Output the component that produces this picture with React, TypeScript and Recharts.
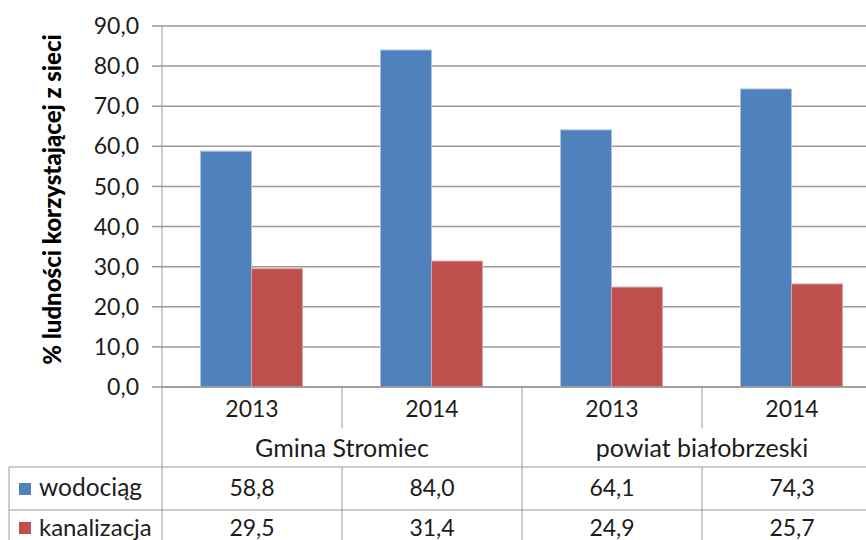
import { BarChart, Bar, XAxis, YAxis, CartesianGrid } from "recharts";

// categories and values
const years = ["2013", "2014", "2013", "2014"];
const groupOfCategory = [0, 0, 1, 1];
const groups = ["Gmina Stromiec", "powiat białobrzeski"];
const wodociag = [58.8, 84.0, 64.1, 74.3];
const kanalizacja = [29.5, 31.4, 24.9, 25.7];
const yTicks = [0, 10, 20, 30, 40, 50, 60, 70, 80, 90];

const seriesNames = ["wodociąg", "kanalizacja"];
const BLUE = "#4F81BD";
const RED = "#C0504D";
const GRID = "#9a9a9a";
const TEXT = "#1c1c1c";
const FONT = "Lato, 'Open Sans', sans-serif";

const CHART_W = 882;
const CHART_H = 540;
const LEFT = 162;
const BAND = (CHART_W - LEFT) / years.length;

const data = years.map((y, i) => ({
  name: y + "_" + i,
  year: y,
  wodociag: wodociag[i],
  kanalizacja: kanalizacja[i],
}));

const fmt = (v: number) => v.toFixed(1).replace(".", ",");

const TableTick = (props: any) => {
  const { x, y, payload } = props;
  const i: number = payload.index;
  const half = BAND / 2;
  const g = groupOfCategory[i];
  const isGroupEnd = i === years.length - 1 || groupOfCategory[i + 1] !== g;
  const isGroupStart = i === 0 || groupOfCategory[i - 1] !== g;
  const groupCount = groupOfCategory.filter((v) => v === g).length;
  const rowA = y + 80;
  const rowB = y + 123;
  return (
    <g fontFamily={FONT} fontSize={23} fill={TEXT}>
      <text x={x} y={y + 30} textAnchor="middle" fill={TEXT}>
        {years[i]}
      </text>
      {isGroupStart && (
        <text
          x={x - half + (groupCount * BAND) / 2}
          y={y + 70}
          textAnchor="middle"
          fill={TEXT}
          fontSize={25}
        >
          {groups[g]}
        </text>
      )}
      {isGroupEnd ? (
        <line x1={x + half} x2={x + half} y1={y} y2={CHART_H} stroke={GRID} />
      ) : (
        <>
          <line x1={x + half} x2={x + half} y1={y} y2={y + 41} stroke={GRID} />
          <line x1={x + half} x2={x + half} y1={rowA} y2={CHART_H} stroke={GRID} />
        </>
      )}
      <text x={x} y={y + 109} textAnchor="middle" fill={TEXT}>
        {fmt(wodociag[i])}
      </text>
      <text x={x} y={y + 149} textAnchor="middle" fill={TEXT}>
        {fmt(kanalizacja[i])}
      </text>
      {i === 0 && (
        <>
          <line x1={x - half} x2={x - half} y1={y} y2={CHART_H} stroke={GRID} />
          <line x1={9} x2={CHART_W} y1={rowA} y2={rowA} stroke={GRID} />
          <line x1={9} x2={CHART_W} y1={rowB} y2={rowB} stroke={GRID} />
          <line x1={9} x2={9} y1={rowA} y2={CHART_H} stroke={GRID} />
          <rect x={19} y={y + 96} width={12} height={12} fill={BLUE} />
          <text x={39} y={y + 109} fill={TEXT} fontSize={24.5}>
            {seriesNames[0]}
          </text>
          <rect x={19} y={y + 135} width={12} height={12} fill={RED} />
          <text x={39} y={y + 149} fill={TEXT} fontSize={24}>
            {seriesNames[1]}
          </text>
        </>
      )}
    </g>
  );
};

const YTitle = (props: any) => {
  const vb = props.viewBox || { y: 26, height: 361 };
  const cy = vb.y + vb.height / 2 - 7;
  return (
    <text
      x={51}
      y={cy}
      transform={`rotate(-90, 51, ${cy})`}
      textAnchor="middle"
      dominantBaseline="central"
      fontFamily={FONT}
      fontWeight={900}
      fontSize={24}
      fill="#000"
    >
      % ludności korzystającej z sieci
    </text>
  );
};

const App = () => {
  return (
    <div
      style={{
        position: "fixed",
        left: 0,
        top: 0,
        width: 866,
        height: 540,
        overflow: "hidden",
        background: "#fff",
      }}
    >
      <BarChart
        width={CHART_W}
        height={CHART_H}
        data={data}
        margin={{ top: 26, right: 0, left: 0, bottom: 0 }}
        barCategoryGap="21.4%"
        barGap={0}
      >
        <CartesianGrid vertical={false} stroke={GRID} strokeWidth={1.5} />
        <XAxis
          dataKey="name"
          height={153}
          interval={0}
          tickLine={false}
          tickSize={0}
          tickMargin={0}
          axisLine={{ stroke: GRID, strokeWidth: 1.5 }}
          tick={<TableTick />}
        />
        <YAxis
          width={LEFT}
          domain={[0, 90]}
          ticks={yTicks}
          interval={0}
          tickFormatter={fmt}
          tickSize={10}
          tickMargin={13}
          axisLine={{ stroke: GRID }}
          tickLine={{ stroke: GRID, strokeWidth: 1.5 }}
          tick={{ fontFamily: FONT, fontSize: 23, fill: TEXT }}
          label={<YTitle />}
        />
        <Bar dataKey="wodociag" fill={BLUE} stroke="#a9bfdc" strokeWidth={1} isAnimationActive={false} />
        <Bar dataKey="kanalizacja" fill={RED} stroke="#d9a3a2" strokeWidth={1} isAnimationActive={false} />
      </BarChart>
    </div>
  );
};

export default App;
